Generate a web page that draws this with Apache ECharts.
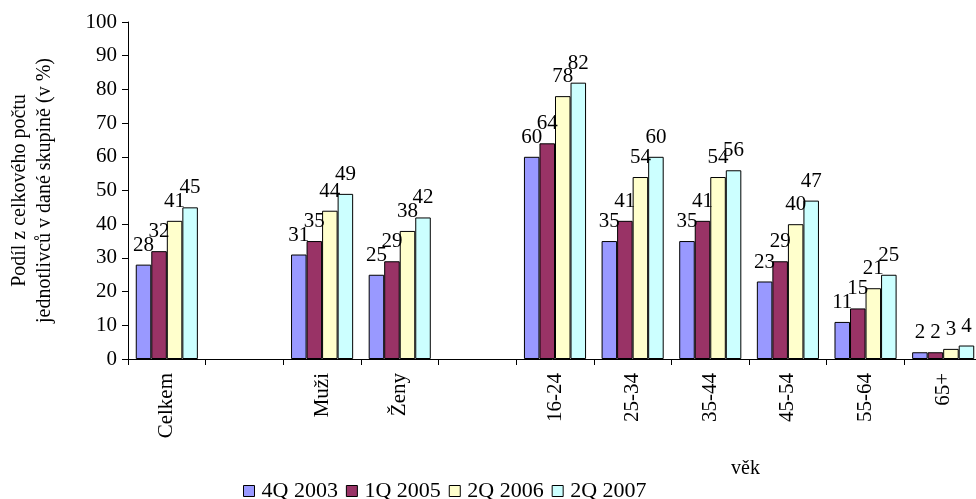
<!DOCTYPE html>
<html>
<head>
<meta charset="utf-8">
<script src="https://cdn.jsdelivr.net/npm/echarts@6/dist/echarts.min.js"></script>
<style>
  html, body { margin: 0; padding: 0; background: #fff; }
  #chart { width: 976px; height: 499px; }
</style>
</head>
<body>
<div id="chart"></div>
<script>
// Groups on the category axis; empty strings leave a gap between blocks
const categories = ['Celkem', '', 'Muži', 'Ženy', '', '16-24', '25-34', '35-44', '45-54', '55-64', '65+'];

// Share of individuals in each group (%), per survey period
const seriesNames = ['4Q 2003', '1Q 2005', '2Q 2006', '2Q 2007'];
const q4_2003 = [28, null, 31, 25, null, 60, 35, 35, 23, 11, 2];
const q1_2005 = [32, null, 35, 29, null, 64, 41, 41, 29, 15, 2];
const q2_2006 = [41, null, 44, 38, null, 78, 54, 54, 40, 21, 3];
const q2_2007 = [45, null, 49, 42, null, 82, 60, 56, 47, 25, 4];

const yTicks = [0, 10, 20, 30, 40, 50, 60, 70, 80, 90, 100];
const colors = ['#9999FF', '#993366', '#FFFFCC', '#CCFFFF'];
const font = 'Liberation Serif, Times New Roman, serif';

const values = [q4_2003, q1_2005, q2_2006, q2_2007];

const chart = echarts.init(document.getElementById('chart'), null, { renderer: 'canvas' });

chart.setOption({
  animation: false,
  backgroundColor: '#ffffff',
  textStyle: { fontFamily: font, color: '#000' },
  grid: { left: 128, top: 22, width: 854, height: 337, containLabel: false, outerBoundsMode: 'none' },
  legend: {
    data: seriesNames,
    left: 238,
    top: 475,
    icon: 'rect',
    itemWidth: 11,
    itemHeight: 11,
    itemGap: 8,
    itemStyle: { borderColor: '#000', borderWidth: 1 },
    textStyle: { fontFamily: font, fontSize: 22, color: '#000', padding: [0, 0, 0, 2] }
  },
  graphic: [{
    type: 'text',
    left: 731,
    top: 459,
    style: { text: 'věk', font: '20px ' + font, fill: '#000' }
  }],
  xAxis: {
    type: 'category',
    data: categories,
    axisLine: { lineStyle: { color: '#000', width: 1 } },
    axisTick: { show: true, alignWithLabel: false, interval: 0, length: 6, lineStyle: { color: '#000' } },
    axisLabel: { interval: 0, rotate: 90, margin: 14, fontFamily: font, fontSize: 21, color: '#000' },
    splitLine: { show: false }
  },
  yAxis: {
    type: 'value',
    min: yTicks[0],
    max: yTicks[yTicks.length - 1],
    interval: yTicks[1] - yTicks[0],
    name: 'Podíl z celkového počtu\njednotlivců v dané skupině (v %)',
    nameLocation: 'middle',
    nameRotate: 90,
    nameGap: 71,
    nameTextStyle: { fontFamily: font, fontSize: 20, color: '#000', lineHeight: 25 },
    axisLine: { show: true, lineStyle: { color: '#000', width: 1 } },
    axisTick: { show: true, inside: false, length: 6, lineStyle: { color: '#000' } },
    axisLabel: { margin: 11, fontFamily: font, fontSize: 21, color: '#000' },
    splitLine: { show: false }
  },
  series: seriesNames.map((name, i) => ({
    name: name,
    type: 'bar',
    data: values[i],
    barGap: '0%',
    barCategoryGap: '20%',
    itemStyle: { color: colors[i], borderColor: '#000', borderWidth: 1 },
    label: {
      show: true,
      position: 'top',
      distance: 9,
      fontFamily: font,
      fontSize: 21,
      color: '#000'
    }
  }))
});
</script>
</body>
</html>
